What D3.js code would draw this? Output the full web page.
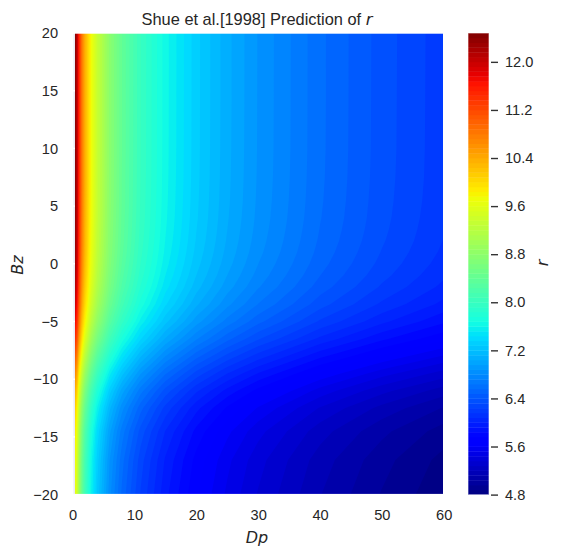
<!DOCTYPE html>
<html>
<head>
<meta charset="utf-8">
<script src="https://cdnjs.cloudflare.com/ajax/libs/d3/7.8.5/d3.min.js"></script>
<style>
html,body{margin:0;padding:0;background:#fff}
svg{display:block}
text{fill:#262626}
.sans{font-family:"Liberation Sans",Arial,sans-serif}
.math{font-family:"DejaVu Sans",sans-serif;font-style:italic}
</style>
</head>
<body>
<svg id="c" width="563" height="559"></svg>
<script>
// Solar-wind dynamic pressure columns
const dpValues = [0.4,0.75,1,1.5,2,3,4,6,8,11,15,20,25,30,40,50,60];
// IMF Bz rows, bottom to top
const bzValues = [-20,-17,-14.5,-12.5,-11,-9.5,-8,-6.5,-5,-3.5,-2,-1,0,1,2,3,4,5.5,7.5,10,14,20];
// r at each (Bz row, Dp column)
const rValues = [
 [9.68,9.36,8.96,8.43,8.07,7.59,7.26,6.83,6.54,6.232,5.946,5.692,5.503,5.353,5.124,4.954,4.819],
 [9.75,9.43,9.03,8.49,8.13,7.64,7.32,6.88,6.59,6.277,5.989,5.732,5.542,5.391,5.161,4.990,4.853],
 [9.89,9.57,9.16,8.61,8.24,7.75,7.42,6.98,6.68,6.368,6.076,5.816,5.622,5.469,5.236,5.062,4.924],
 [10.12,9.78,9.36,8.80,8.43,7.93,7.59,7.14,6.83,6.510,6.212,5.946,5.748,5.592,5.353,5.175,5.034],
 [10.37,10.03,9.60,9.03,8.64,8.13,7.78,7.32,7.00,6.674,6.368,6.096,5.893,5.733,5.488,5.306,5.161],
 [10.70,10.35,9.90,9.31,8.92,8.39,8.03,7.55,7.23,6.887,6.571,6.290,6.081,5.916,5.663,5.475,5.325],
 [11.08,10.71,10.25,9.64,9.23,8.68,8.31,7.82,7.48,7.130,6.803,6.512,6.295,6.124,5.863,5.668,5.513],
 [11.45,11.07,10.60,9.97,9.54,8.97,8.59,8.08,7.73,7.370,7.032,6.731,6.507,6.330,6.060,5.859,5.699],
 [11.77,11.38,10.89,10.24,9.81,9.22,8.83,8.30,7.95,7.574,7.227,6.918,6.688,6.506,6.228,6.021,5.857],
 [12.01,11.61,11.11,10.45,10.01,9.41,9.01,8.47,8.11,7.729,7.374,7.058,6.824,6.638,6.355,6.144,5.976],
 [12.17,11.77,11.27,10.59,10.14,9.54,9.13,8.59,8.22,7.834,7.475,7.155,6.917,6.729,6.442,6.228,6.058],
 [12.25,11.84,11.34,10.66,10.21,9.60,9.19,8.64,8.27,7.883,7.521,7.200,6.960,6.771,6.482,6.267,6.095],
 [12.30,11.89,11.39,10.71,10.25,9.64,9.23,8.68,8.31,7.919,7.555,7.232,6.992,6.801,6.511,6.295,6.123],
 [12.34,11.93,11.42,10.74,10.29,9.67,9.26,8.71,8.34,7.944,7.580,7.255,7.014,6.824,6.532,6.315,6.143],
 [12.37,11.96,11.45,10.77,10.31,9.69,9.28,8.73,8.36,7.962,7.597,7.272,7.030,6.839,6.547,6.330,6.157],
 [12.39,11.98,11.47,10.78,10.32,9.71,9.29,8.74,8.37,7.975,7.609,7.283,7.041,6.850,6.557,6.340,6.166],
 [12.41,11.99,11.48,10.80,10.34,9.72,9.31,8.75,8.38,7.984,7.618,7.292,7.049,6.858,6.565,6.347,6.173],
 [12.42,12.01,11.49,10.81,10.35,9.73,9.32,8.76,8.39,7.992,7.626,7.299,7.057,6.865,6.572,6.353,6.180],
 [12.43,12.02,11.50,10.82,10.36,9.74,9.32,8.77,8.39,7.999,7.632,7.305,7.062,6.870,6.577,6.358,6.185],
 [12.43,12.02,11.51,10.82,10.36,9.74,9.33,8.77,8.40,8.002,7.635,7.308,7.065,6.873,6.580,6.361,6.187],
 [12.44,12.02,11.51,10.82,10.36,9.74,9.33,8.77,8.40,8.003,7.636,7.309,7.067,6.874,6.581,6.362,6.188],
 [12.44,12.02,11.51,10.82,10.36,9.75,9.33,8.77,8.40,8.004,7.637,7.310,7.067,6.875,6.581,6.363,6.189]
];
const xTicks = [0,10,20,30,40,50,60];
const yTicks = [-20,-15,-10,-5,0,5,10,15,20];
const cbTicks = [4.8,5.6,6.4,7.2,8.0,8.8,9.6,10.4,11.2,12.0];
const levelMin = 4.8, levelMax = 12.48, levelStep = 0.08;

const plot = {l:72.6, r:443.7, t:33, b:494.6};
const bar = {l:468, r:489};
const FONT = "Liberation Sans, Arial, sans-serif";
const TICK_SIZE = 14.6;

const svg = d3.select("#c");
const x = d3.scaleLinear().domain([0,60]).range([plot.l,plot.r]);
const y = d3.scaleLinear().domain([-20,20]).range([plot.b,plot.t]);
const cb = d3.scaleLinear().domain([levelMin,levelMax]).range([plot.b,plot.t]);

// matplotlib "jet"
const jetR = d3.scaleLinear().domain([0,0.35,0.66,0.89,1]).range([0,0,1,1,0.5]);
const jetG = d3.scaleLinear().domain([0,0.125,0.375,0.64,0.91,1]).range([0,0,1,1,0,0]);
const jetB = d3.scaleLinear().domain([0,0.11,0.34,0.65,1]).range([0.5,1,1,0,0]);
const toByte = v => Math.round(v*255);
const jet = t => `rgb(${toByte(jetR(t))},${toByte(jetG(t))},${toByte(jetB(t))})`;
const norm = d3.scaleLinear().domain([levelMin,levelMax]).range([0,1]);

const levels = d3.range(0,96).map(i => +(levelMin + i*levelStep).toFixed(2));
const bandColor = lo => jet(norm(lo + levelStep/2));

// axes background and grid
svg.append("rect").attr("x",plot.l).attr("y",plot.t)
   .attr("width",plot.r-plot.l).attr("height",plot.b-plot.t).attr("fill","#eaeaf2");

const xAxis = d3.axisBottom(x).tickValues(xTicks).tickFormat(d3.format("d")).tickSize(0).tickPadding(15);
const yAxis = d3.axisLeft(y).tickValues(yTicks).tickFormat(d3.format("d")).tickSize(0).tickPadding(14.5);

svg.append("g").selectAll("line").data(xTicks).join("line")
   .attr("x1",d=>x(d)).attr("x2",d=>x(d)).attr("y1",plot.t).attr("y2",plot.b)
   .attr("stroke","#fff").attr("stroke-width",1.4);
svg.append("g").selectAll("line").data(yTicks).join("line")
   .attr("x1",plot.l).attr("x2",plot.r).attr("y1",d=>y(d)).attr("y2",d=>y(d))
   .attr("stroke","#fff").attr("stroke-width",1.4);

// filled contours on the non-uniform grid
const nx = dpValues.length, ny = bzValues.length;
const gridToDp = d3.scaleLinear().domain(dpValues.map((_,i)=>i+0.5)).range(dpValues).clamp(true);
const gridToBz = d3.scaleLinear().domain(bzValues.map((_,i)=>i+0.5)).range(bzValues).clamp(true);
const path = d3.geoPath(d3.geoTransform({
  point(px,py){ this.stream.point(x(gridToDp(px)), y(gridToBz(py))); }
}));
const contours = d3.contours().size([nx,ny]).thresholds(levels)(rValues.flat());
svg.append("g").selectAll("path").data(contours).join("path")
   .attr("d",path)
   .attr("fill",d=>bandColor(d.value));

// spines
svg.append("rect").attr("x",plot.l).attr("y",plot.t)
   .attr("width",plot.r-plot.l).attr("height",plot.b-plot.t)
   .attr("fill","none").attr("stroke","#fff").attr("stroke-width",1.4);

// axes
const gx = svg.append("g").attr("class","sans").attr("transform",`translate(0,${plot.b})`).call(xAxis);
gx.select(".domain").remove();
gx.selectAll("text").attr("font-size",TICK_SIZE).attr("font-family",FONT).attr("fill","#262626");
const gy = svg.append("g").attr("class","sans").attr("transform",`translate(${plot.l},0)`).call(yAxis);
gy.select(".domain").remove();
gy.selectAll("text").attr("font-size",TICK_SIZE).attr("font-family",FONT).attr("fill","#262626");

// colour bar
svg.append("g").selectAll("rect").data(levels).join("rect")
   .attr("x",bar.l).attr("width",bar.r-bar.l)
   .attr("y",d=>cb(d+levelStep)).attr("height",d=>cb(d)-cb(d+levelStep)+0.4)
   .attr("fill",bandColor);
svg.append("rect").attr("x",bar.l).attr("y",plot.t)
   .attr("width",bar.r-bar.l).attr("height",plot.b-plot.t)
   .attr("fill","none").attr("stroke","#fff").attr("stroke-opacity",0.6).attr("stroke-width",1);
const cbAxis = d3.axisRight(cb).tickValues(cbTicks).tickFormat(d3.format(".1f")).tickSize(7).tickPadding(7);
const gc = svg.append("g").attr("transform",`translate(${bar.r+2},0)`).call(cbAxis);
gc.select(".domain").remove();
gc.selectAll("line").attr("stroke","#333").attr("stroke-width",1.4);
gc.selectAll("text").attr("font-size",TICK_SIZE).attr("font-family",FONT).attr("fill","#262626");

// titles
const title = svg.append("text").attr("class","sans").attr("x",257).attr("y",25)
   .attr("text-anchor","middle").attr("font-size",16.4);
title.append("tspan").text("Shue et al.[1998] Prediction of ");
title.append("tspan").attr("class","math").text("r");
svg.append("text").attr("class","math").attr("x",257).attr("y",542.5)
   .attr("text-anchor","middle").attr("font-size",16).text("Dp");
svg.append("text").attr("class","math").attr("text-anchor","middle").attr("font-size",16)
   .attr("transform","translate(23,265) rotate(-90)").text("Bz");
svg.append("text").attr("class","math").attr("text-anchor","middle").attr("font-size",16)
   .attr("transform","translate(548,263) rotate(-90)").text("r");
</script>
</body>
</html>
